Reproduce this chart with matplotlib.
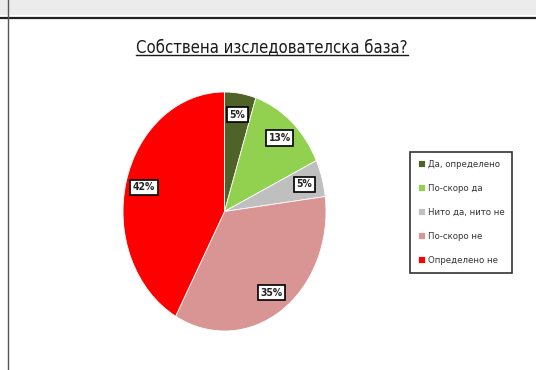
import matplotlib.pyplot as plt
from matplotlib.patches import Rectangle
from matplotlib.lines import Line2D

labels = ['Да, определено', 'По-скоро да', 'Нито да, нито не', 'По-скоро не', 'Определено не']
values = [5, 13, 5, 35, 42]
colors = ['#4f6228', '#92d050', '#bfbfbf', '#d99594', '#ff0000']
title = 'Собствена изследователска база?'

W, H = 536, 370
fig = plt.figure(figsize=(W / 100, H / 100), dpi=100)
fig.patch.set_facecolor('white')

# grey strip on top and frame of the chart area
fig.add_artist(Rectangle((0, 1 - 15 / H), 1, 15 / H, transform=fig.transFigure,
                         facecolor='#ececec', edgecolor='none'))
fig.add_artist(Line2D([0, 1], [1 - 18 / H, 1 - 18 / H], transform=fig.transFigure,
                      color='#222222', lw=1.6))
fig.add_artist(Line2D([8 / W, 8 / W], [0, 1], transform=fig.transFigure,
                      color='#555555', lw=1.0))

# pie axes (stretched vertically like the original)
left, top, right, bottom = 123, 92, 326, 331
ax = fig.add_axes([left / W, 1 - bottom / H, (right - left) / W, (bottom - top) / H])
wedges, texts, autotexts = ax.pie(values, colors=colors, startangle=90, counterclock=False,
                                  autopct='%d%%', pctdistance=0.82,
                                  wedgeprops=dict(edgecolor='white', linewidth=0.6),
                                  textprops=dict(fontsize=7.5, fontweight='bold', color='#222222'))
for t in autotexts:
    t.set_fontstretch('condensed')
    t.set_bbox(dict(boxstyle='square,pad=0.25', facecolor='white', edgecolor='black', linewidth=1.2))
ax.set_aspect('auto')
ax.set_xlim(-1, 1)
ax.set_ylim(-1, 1)
ax.axis('off')

# title with underline
tt = fig.text(272 / W, 1 - 47 / H, title, ha='center', va='center', fontsize=12,
              fontweight='normal', fontstretch='condensed', color='#1a1a1a')
fig.canvas.draw()
bb = tt.get_window_extent().transformed(fig.transFigure.inverted())
fig.add_artist(Line2D([bb.x0, bb.x1], [bb.y0 + 0.004, bb.y0 + 0.004], transform=fig.transFigure,
                      color='#1a1a1a', lw=1.0))

leg = fig.legend(wedges, labels, loc='upper left', bbox_to_anchor=(410 / W, 1 - 152 / H),
                 fontsize=6.8, frameon=True, fancybox=False, handlelength=0.8, handleheight=0.8,
                 handletextpad=0.3, labelspacing=1.6, borderpad=0.8, borderaxespad=0)
leg.get_frame().set_edgecolor('black')
leg.get_frame().set_linewidth(1.2)
for t in leg.get_texts():
    t.set_fontstretch('condensed')
    t.set_color('#333333')

fig.savefig('out.png', dpi=100)
